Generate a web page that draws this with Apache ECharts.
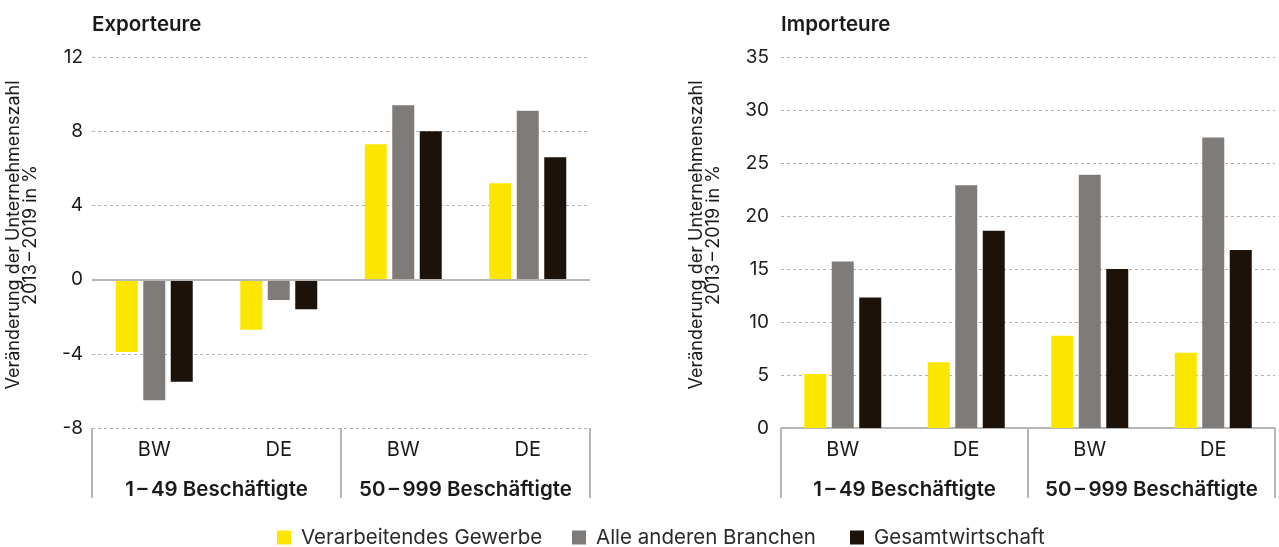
<!DOCTYPE html>
<html>
<head>
<meta charset="utf-8">
<script src="https://cdn.jsdelivr.net/npm/echarts@6/dist/echarts.min.js"></script>
<style>
  html, body { margin: 0; padding: 0; background: #ffffff; }
  #chart { width: 1279px; height: 547px; }
</style>
</head>
<body>
<div id="chart"></div>
<script>
// Firm-size groups and regions on the category axes
const regions = ['BW', 'DE', 'BW', 'DE'];
const sizeGroups = ['1\u2009\u2013\u200949 Beschäftigte', '50\u2009\u2013\u2009999 Beschäftigte'];
const seriesNames = ['Verarbeitendes Gewerbe', 'Alle anderen Branchen', 'Gesamtwirtschaft'];
const seriesColors = ['#FCE600', '#7F7B79', '#1C1209'];

// Change in number of firms 2013–2019 in %, exporters
const exportManufacturing = [-3.9, -2.7, 7.3, 5.2];
const exportOtherSectors = [-6.5, -1.1, 9.4, 9.1];
const exportTotal = [-5.5, -1.6, 8.0, 6.6];

// Change in number of firms 2013–2019 in %, importers
const importManufacturing = [5.1, 6.2, 8.7, 7.1];
const importOtherSectors = [15.7, 22.9, 23.9, 27.4];
const importTotal = [12.3, 18.6, 15.0, 16.8];

// Value axis ticks
const exportAxis = { min: -8, max: 12, interval: 4 };
const importAxis = { min: 0, max: 35, interval: 5 };

const FONT = 'Inter, "Noto Sans", sans-serif';
const TEXT = '#1a1a1a';
const FRAME = '#b7b7b7';

const chart = echarts.init(document.getElementById('chart'), null, { renderer: 'canvas' });

function valueAxis(grid, range, margin) {
  return {
    type: 'value', gridIndex: grid,
    min: range.min, max: range.max, interval: range.interval,
    axisLine: { show: false }, axisTick: { show: false },
    axisLabel: { color: TEXT, fontFamily: FONT, fontSize: 19, margin: margin },
    splitLine: { lineStyle: { color: '#b0b0b0', type: [3, 3], width: 1 } }
  };
}

function regionAxis(grid, showLine) {
  return {
    type: 'category', gridIndex: grid, data: regions, position: 'bottom',
    axisLine: { show: showLine, onZero: false, lineStyle: { color: FRAME, width: 2 } },
    axisTick: { show: false },
    axisLabel: { color: TEXT, fontFamily: FONT, fontSize: 20, margin: 12 }
  };
}

function groupAxis(grid) {
  return {
    type: 'category', gridIndex: grid, data: sizeGroups, position: 'bottom',
    axisLine: { show: false, onZero: false },
    axisTick: { show: true, length: 70, inside: false, lineStyle: { color: FRAME, width: 2 } },
    axisLabel: { color: TEXT, fontFamily: FONT, fontSize: 20.5, fontWeight: 600, margin: 51, interval: 0 }
  };
}

function bars(name, data, color, xIdx, yIdx, extra) {
  return Object.assign({
    name: name, type: 'bar', data: data,
    xAxisIndex: xIdx, yAxisIndex: yIdx,
    barWidth: 22, barGap: '25%',
    itemStyle: { color: color },
    emphasis: { disabled: true }
  }, extra || {});
}

const zeroLine = {
  markLine: {
    silent: true, symbol: ['none', 'none'],
    label: { show: false },
    lineStyle: { color: FRAME, type: 'solid', width: 2 },
    data: [{ yAxis: 0 }]
  }
};

const legendLeft = [272, 567, 845];
const axisTitle = 'Veränderung der Unternehmenszahl\n2013\u2009\u2013\u20092019 in %';

const option = {
  animation: false,
  backgroundColor: '#ffffff',
  textStyle: { fontFamily: FONT },
  title: [
    { text: 'Exporteure', left: 92, top: 14, padding: 0, textStyle: { fontFamily: FONT, fontSize: 20.5, fontWeight: 600, color: TEXT } },
    { text: 'Importeure', left: 781, top: 14, padding: 0, textStyle: { fontFamily: FONT, fontSize: 20.5, fontWeight: 600, color: TEXT } }
  ],
  legend: seriesNames.map((n, i) => ({
    data: [n], left: legendLeft[i], top: 522,
    icon: 'rect', itemWidth: 14, itemHeight: 14,
    selectedMode: false,
    textStyle: { fontFamily: FONT, fontSize: 20.5, color: '#2a2a2a', padding: [0, 0, 0, 5] }
  })),
  grid: [
    { left: 92, top: 57, width: 498, height: 371 },
    { left: 781, top: 57, width: 494, height: 371 }
  ],
  xAxis: [regionAxis(0, false), groupAxis(0), regionAxis(1, true), groupAxis(1)],
  yAxis: [valueAxis(0, exportAxis, 9), valueAxis(1, importAxis, 12)],
  graphic: [
    {
      type: 'text', x: 22, y: 235, rotation: Math.PI / 2,
      style: { text: axisTitle, align: 'center', verticalAlign: 'middle',
               font: '18px ' + FONT, lineHeight: 17, fill: TEXT }
    },
    {
      type: 'text', x: 705, y: 235, rotation: Math.PI / 2,
      style: { text: axisTitle, align: 'center', verticalAlign: 'middle',
               font: '18px ' + FONT, lineHeight: 17, fill: TEXT }
    }
  ],
  series: [
    bars(seriesNames[0], exportManufacturing, seriesColors[0], 0, 0, zeroLine),
    bars(seriesNames[1], exportOtherSectors, seriesColors[1], 0, 0),
    bars(seriesNames[2], exportTotal, seriesColors[2], 0, 0),
    bars(seriesNames[0], importManufacturing, seriesColors[0], 2, 1),
    bars(seriesNames[1], importOtherSectors, seriesColors[1], 2, 1),
    bars(seriesNames[2], importTotal, seriesColors[2], 2, 1)
  ]
};

chart.setOption(option);
</script>
</body>
</html>
